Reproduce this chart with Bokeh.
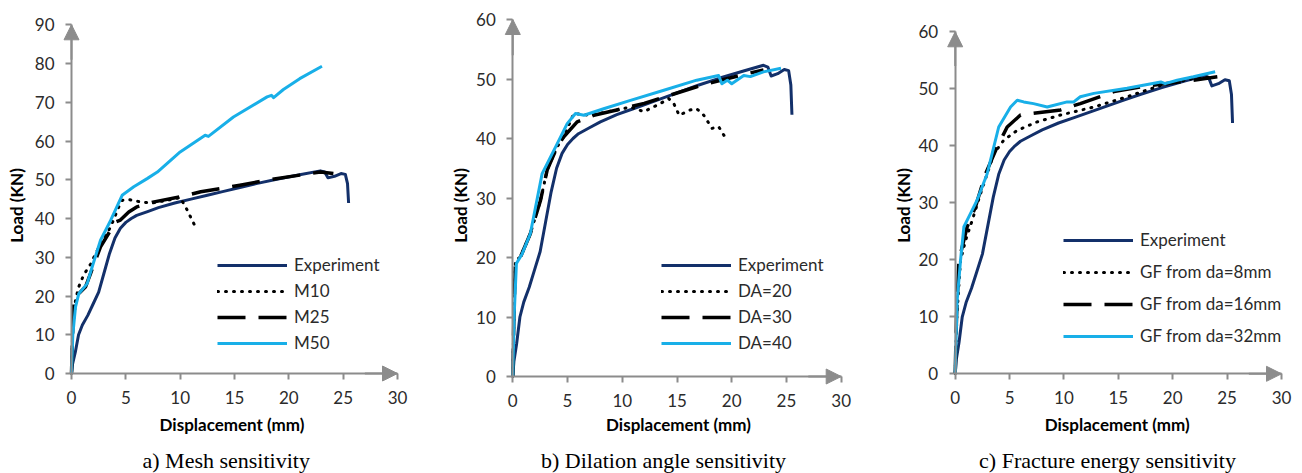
from bokeh.plotting import figure
from bokeh.layouts import row
from bokeh.models import Legend, LegendItem, Label, Arrow, NormalHead, FixedTicker, Range1d
from bokeh.embed import file_html
from bokeh.resources import INLINE

# ---------------- data ----------------
exp_x = [0, 0.1, 0.35, 0.65, 1.0, 1.5, 2.0, 2.5, 3.0, 3.5, 4.0, 4.5, 5.0, 5.5, 6.0, 7.0, 8.0, 9.5,
         11, 12.5, 14, 15.5, 17, 19, 21, 22.9, 23.3, 23.6, 24.2, 24.8, 25.2, 25.4, 25.5]
exp_y = [0, 2.5, 5.5, 10, 12.5, 15, 18, 21, 26, 31, 35, 37.5, 39, 40, 40.8, 41.8, 42.8, 44,
         45, 46, 47, 48, 49, 50.2, 51.3, 52.3, 52, 50.5, 50.9, 51.6, 51.4, 49, 44]

m10_x = [0, 0.1, 0.37, 0.67, 1.13, 1.75, 2.67, 3.6, 4.35, 4.66, 5.27, 6.3, 7.4, 8.8, 10.0, 10.5, 11.1, 11.55]
m10_y = [0, 10, 19, 22.4, 25.5, 28.2, 33.5, 37.8, 43, 44.7, 44.9, 44.3, 44.0, 44.7, 45.4, 43, 39.6, 37]

m25_x = [0, 0.1, 0.2, 0.67, 1.3, 1.75, 2.67, 3.6, 4.05, 4.5, 5.27, 6.0, 7.6, 10.0, 11.9, 13.7, 15.5, 18.0, 21.0, 22.9, 24.1]
m25_y = [0, 10, 18.9, 20.6, 22.4, 25.8, 32.7, 37, 39.1, 39.6, 41.7, 43, 44.3, 45.6, 46.9, 47.7, 48.6, 49.9, 51.2, 52, 51.6]

m50_x = [0, 0.12, 0.37, 0.67, 1.44, 1.9, 2.67, 3.6, 4.66, 5.73, 6.96, 7.9, 10.0, 12.3, 12.6, 14.9, 18.0, 18.4, 18.6, 19.5, 21.0, 23.05]
m50_y = [0, 10, 17.2, 20.6, 23.2, 27.5, 34.4, 39.5, 46, 48.2, 50.3, 52, 57.2, 61.5, 61.2, 66.2, 71.4, 71.8, 71.2, 73.3, 76.1, 79.3]

da20_x = [0, 0.1, 0.24, 0.7, 1.6, 2.53, 3.14, 4.05, 4.66, 5.57, 7.1, 9.5, 10.75, 11.97, 13.5, 14.25, 14.7, 15.2,
          16.2, 16.8, 17.45, 18.2, 18.8, 19.3]
da20_y = [0, 10, 19.5, 20.1, 24, 29.6, 34.7, 38.6, 40.3, 44.2, 43.9, 44.8, 45.3, 44.5, 45.9, 46.7, 45.9, 43.9,
          44.8, 45.0, 43.9, 41.7, 42, 40.5]

da30_x = [0, 0.1, 0.24, 0.7, 1.6, 2.53, 3.14, 4.05, 4.66, 5.88, 7.4, 9.5, 12.0, 14.4, 16.8, 19.0, 21.4, 22.9]
da30_y = [0, 10, 19.5, 20.1, 24, 29.6, 34.7, 38.6, 40.3, 42.8, 43.9, 44.8, 45.9, 47.3, 48.7, 49.8, 50.9, 51.5]

da40_x = [0, 0.12, 0.33, 0.85, 1.6, 2.68, 4.05, 4.97, 5.73, 6.5, 8.3, 10.75, 13.8, 16.8, 18.8, 19.1, 19.6, 20.0,
          21.1, 21.7, 22.9, 24.5]
da40_y = [0, 10, 19, 20.6, 24, 34.1, 39.1, 42.5, 44.2, 43.9, 45, 46.4, 48.1, 49.8, 50.6, 49.2, 49.8, 49.2,
          50.6, 50.4, 51.2, 51.8]

gf8_x = [0, 0.15, 0.49, 0.95, 1.56, 2.33, 3.55, 4.47, 5.7, 7.54, 9.68, 12.75, 15.8, 18.9, 21.9, 23.8]
gf8_y = [0, 10, 19.9, 23.4, 26.9, 31.6, 38.6, 41, 42.7, 44.2, 45.4, 46.8, 48.6, 50.6, 51.8, 52.1]

gf16_x = [0, 0.12, 0.34, 1.1, 1.87, 2.79, 3.86, 4.78, 6.0, 7.2, 9.7, 11.5, 14.6, 17.3, 21.9, 24.1]
gf16_y = [0, 10, 19.9, 25.8, 29.3, 35.1, 39.8, 43.3, 45.4, 45.7, 46.3, 47.4, 49.5, 50.4, 51.5, 52.1]

gf32_x = [0, 0.18, 0.49, 0.8, 1.4, 2.0, 2.94, 4.0, 5.09, 5.7, 6.3, 7.2, 8.46, 10.3, 10.9, 11.5, 12.75, 15.8,
          18.9, 19.3, 20.4, 21.9, 23.9]
gf32_y = [0, 12.9, 19.9, 25.8, 28.1, 30.4, 35.1, 43.3, 46.8, 48, 47.7, 47.4, 46.8, 47.7, 47.7, 48.6, 49.2, 50.1,
          51.2, 50.9, 51.5, 52.1, 53]

x_ticks = [0, 5, 10, 15, 20, 25, 30]
y_ticks_a = [0, 10, 20, 30, 40, 50, 60, 70, 80, 90]
y_ticks_bc = [0, 10, 20, 30, 40, 50, 60]

labels_a = ["Experiment", "M10", "M25", "M50"]
labels_b = ["Experiment", "DA=20", "DA=30", "DA=40"]
labels_c = ["Experiment", "GF from da=8mm", "GF from da=16mm", "GF from da=32mm"]

captions = ["a) Mesh sensitivity", "b) Dilation angle sensitivity", "c) Fracture energy sensitivity"]

# ---------------- styles / layout ----------------
NAVY = "#13306A"
LBLUE = "#18AFE8"
GRAY = "#8C8C8C"
TXT = "#2B2B2B"
SANS = "Lato"
SERIF = "Liberation Serif"
W, H = 434, 473

STYLES = [
    dict(line_color=NAVY, line_width=3),
    dict(line_color="black", line_width=3, line_dash="1 7", line_cap="round"),
    dict(line_color="black", line_width=3.5, line_dash="28 13"),
    dict(line_color=LBLUE, line_width=3),
]


def make_panel(series, labels, ymax, yticks, frame_px, legend_loc, legend_spacing,
               caption, cap_px, disp_px, load_px):
    # frame_px: canvas pixels of (x=0, x=30, y=0, y=ymax)
    px0, px1, py0, py1 = frame_px
    kx = (px1 - px0) / 30.0
    ky = (py0 - py1) / float(ymax)
    x_start = -px0 / kx
    x_end = 30 + (W - px1) / kx
    y_start = -(H - py0) / ky
    y_end = ymax + py1 / ky

    def dx(px):
        return x_start + px / kx

    def dy(py):
        return y_start + (H - py) / ky

    p = figure(width=W, height=H, output_backend="svg", toolbar_location=None,
               x_range=Range1d(x_start, x_end), y_range=Range1d(y_start, y_end),
               min_border=0)
    p.outline_line_color = None
    p.grid.visible = False
    p.background_fill_color = "white"
    p.border_fill_color = "white"

    for ax, ticks, bnd in ((p.xaxis, x_ticks, (0, 30)), (p.yaxis, yticks, (0, ymax))):
        ax.fixed_location = 0
        ax.bounds = bnd
        ax.ticker = FixedTicker(ticks=ticks)
        ax.minor_tick_line_color = None
        ax.major_tick_in = 0
        ax.major_tick_out = 6
        ax.major_tick_line_color = GRAY
        ax.major_tick_line_width = 2
        ax.axis_line_color = GRAY
        ax.axis_line_width = 2
        ax.major_label_text_font = SANS
        ax.major_label_text_font_size = "17px"
        ax.major_label_text_color = TXT
    p.xaxis.major_label_standoff = 11
    p.yaxis.major_label_standoff = 11

    head = dict(size=15, fill_color=GRAY, line_color=GRAY, line_width=1)
    p.add_layout(Arrow(end=NormalHead(**head), x_start=0, y_start=ymax * 0.9, x_end=0, y_end=ymax,
                       line_color=GRAY, line_width=2))
    p.add_layout(Arrow(end=NormalHead(**head), x_start=27, y_start=0, x_end=30, y_end=0,
                       line_color=GRAY, line_width=2))

    items = []
    for (xs, ys), lab, st in zip(series, labels, STYLES):
        r = p.line(xs, ys, line_join="round", **st)
        items.append(LegendItem(label=lab, renderers=[r]))

    leg = Legend(items=items, location=legend_loc, border_line_color=None,
                 background_fill_alpha=0, padding=0, margin=0, spacing=legend_spacing,
                 glyph_width=70, glyph_height=20, label_height=20, label_standoff=7,
                 label_text_font=SANS, label_text_font_size="17px", label_text_color=TXT)
    p.add_layout(leg)

    p.add_layout(Label(x=dx(disp_px[0]), y=dy(disp_px[1]), text="Displacement (mm)",
                       text_font=SANS, text_font_style="bold", text_font_size="17px",
                       text_align="center", text_baseline="middle", text_color="black"))
    p.add_layout(Label(x=dx(load_px[0]), y=dy(load_px[1]), text="Load (KN)", angle=90, angle_units="deg",
                       text_font=SANS, text_font_style="bold", text_font_size="17px",
                       text_align="center", text_baseline="middle", text_color="black"))
    p.add_layout(Label(x=dx(cap_px[0]), y=dy(cap_px[1]), text=caption,
                       text_font=SERIF, text_font_size="22px",
                       text_align="center", text_baseline="middle", text_color="black"))
    return p


pa = make_panel([(exp_x, exp_y), (m10_x, m10_y), (m25_x, m25_y), (m50_x, m50_y)], labels_a,
                90, y_ticks_a, (71, 397, 373, 24.3), (217, 120), 5, captions[0],
                (225.7, 460), (231.5, 424), (16, 205))
pb = make_panel([(exp_x, exp_y), (da20_x, da20_y), (da30_x, da30_y), (da40_x, da40_y)], labels_b,
                60, y_ticks_bc, (78.3, 406.7, 376, 19), (227, 120), 5, captions[1],
                (229, 460), (244, 424), (26, 205))
pc = make_panel([(exp_x, exp_y), (gf8_x, gf8_y), (gf16_x, gf16_y), (gf32_x, gf32_y)], labels_c,
                60, y_ticks_bc, (86.7, 413, 373.3, 31.3), (195, 127), 11, captions[2],
                (239, 460), (248.7, 424), (35, 205))

layout = row(pa, pb, pc, spacing=0)
open("out.html", "w").write(file_html(layout, INLINE))
